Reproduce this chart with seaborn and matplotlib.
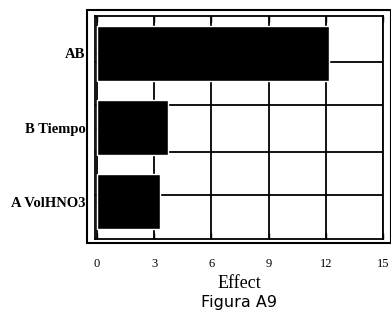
import matplotlib
matplotlib.use("Agg")
import matplotlib.pyplot as plt
import seaborn as sns
import pandas as pd
from matplotlib.patches import Rectangle

labels = ["AB", "B Tiempo", "A VolHNO3"]
effects = [12.15, 3.75, 3.3]
xticks = [0, 3, 6, 9, 12, 15]
hlines_minor = [0.12, 0.70, 1.33, 1.91]

sns.set_theme(style="white")
plt.rcParams['font.family'] = ['Liberation Serif', 'DejaVu Serif']
plt.rcParams['text.color'] = 'black'
plt.rcParams['xtick.color'] = 'black'
plt.rcParams['ytick.color'] = 'black'
plt.rcParams['axes.labelcolor'] = 'black'

df = pd.DataFrame({"label": labels, "effect": effects})

fig = plt.figure(figsize=(3.91, 3.32), dpi=100)
ax = fig.add_axes([95/391, 1 - 239/332, (383-95)/391, (239-16)/332])

sns.barplot(data=df, x="effect", y="label", orient="h", color="black",
            width=0.74, saturation=1, ax=ax, zorder=3)

ax.set_xlim(-0.1, 15)
ax.set_ylim(2.5, -0.5)
ax.set_xticks(xticks)
ax.set_xticklabels([str(t) for t in xticks], fontsize=9)
ax.set_yticks(hlines_minor, minor=True)
ax.grid(True, axis="x", which="major", color="black", linewidth=1.3, zorder=1)
ax.grid(True, axis="y", which="minor", color="black", linewidth=1.3, zorder=1)
ax.grid(False, axis="y", which="major")
ax.set_axisbelow(True)
ax.tick_params(axis="x", direction="in", top=True, bottom=True, length=4,
               width=1, color="black", pad=14)
ax.tick_params(axis="y", which="major", direction="in", left=True, length=2,
               width=1, color="black", labelsize=10.5, pad=7)
ax.tick_params(axis="y", which="minor", length=0)
for lab in ax.get_yticklabels():
    lab.set_fontweight("bold")
for s in ax.spines.values():
    s.set_color("black")
    s.set_linewidth(1.3)
ax.set_xlabel("")
ax.set_ylabel("")

# outer frame
fig.patches.append(Rectangle((87/391, 1 - 243/332), (391-87)/391, (243-10)/332,
                             transform=fig.transFigure, fill=False,
                             edgecolor="black", linewidth=1.5))

fig.text(239/391, 1 - 283/332, "Effect", ha="center", va="center", fontsize=13)
fig.text(239/391, 1 - 303/332, "Figura A9", ha="center", va="center",
         fontsize=11.5, family="DejaVu Sans")

fig.savefig("out.png", dpi=100)
